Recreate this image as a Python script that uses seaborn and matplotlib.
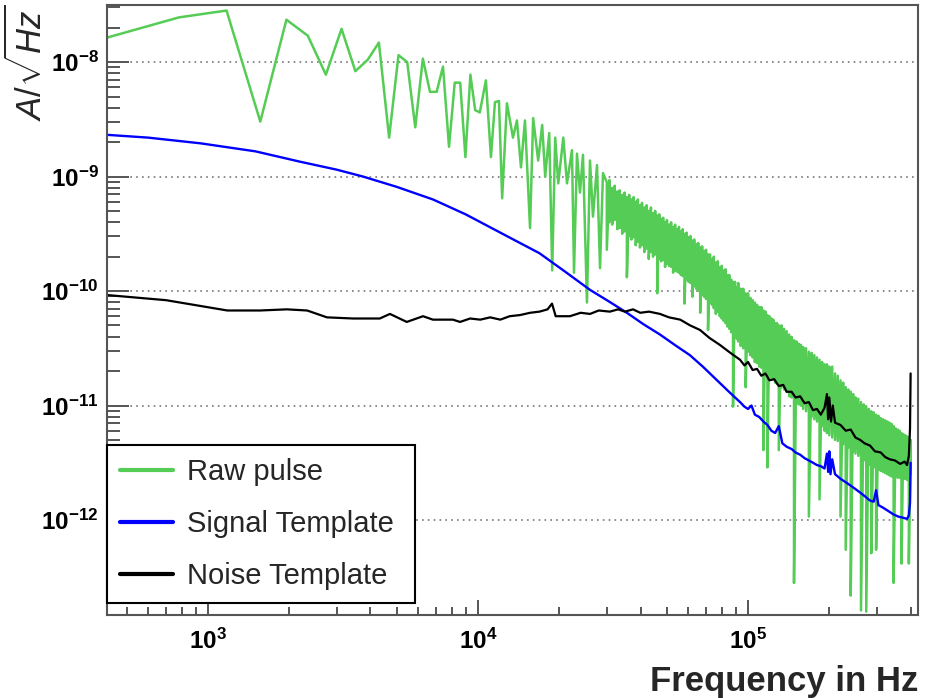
import numpy as np
import pandas as pd
import matplotlib
matplotlib.use("Agg")
import matplotlib.pyplot as plt
import seaborn as sns
from matplotlib import ticker

sns.set_style("ticks")
plt.rcParams["font.family"] = ["Liberation Sans", "DejaVu Sans"]
plt.rcParams["mathtext.fontset"] = "custom"
plt.rcParams["mathtext.rm"] = "Liberation Sans"
plt.rcParams["mathtext.it"] = "Liberation Sans:italic"
plt.rcParams["mathtext.bf"] = "Liberation Sans:bold"

# ---- data: frequency in Hz, log10 of amplitude ----
# raw pulse, low-frequency part (single bins, zig-zag)
raw_freq = [
    390, 781, 1172, 1563, 1953, 2344, 2734, 3125, 3516, 3906, 4297, 4688,
    5078, 5469, 5859, 6250, 6641, 7031, 7422, 7813, 8203, 8594, 8984, 9375,
    9766, 10156, 10700, 11170, 11560, 11960, 12290, 12800, 13480, 13940,
    14430, 14930, 15590, 16010, 16710, 17290, 17740, 18360, 18830, 19320,
    19830, 20700, 21360, 22290, 22680, 23260, 23860, 24480, 25330, 25990,
    26660, 27590, 28310, 29040,
]
raw_log = [
    -7.81, -7.61, -7.55, -8.52, -7.63, -7.77, -8.11, -7.71, -8.08, -7.98,
    -7.83, -8.66, -7.94, -8.00, -8.57, -7.97, -8.26, -8.26, -8.04, -8.74,
    -8.18, -8.18, -8.83, -8.11, -8.42, -8.44, -8.16, -8.83, -8.35, -8.34,
    -9.19, -8.36, -8.66, -8.51, -8.92, -8.51, -9.45, -8.49, -8.86, -8.55,
    -9.00, -8.62, -9.82, -8.66, -9.06, -8.66, -9.06, -8.77, -9.84, -8.80,
    -9.14, -8.81, -10.10, -8.86, -9.35, -8.90, -9.80, -8.97,
]
# raw pulse, high-frequency part: dense band, top and bottom of each column
band_freq = [
    30000, 30700, 31400, 32100, 32800, 33500, 34200, 34900, 35600, 36300,
    37000, 37700, 38400, 39100, 39800, 40500, 41300, 42100, 42900, 43700,
    44500, 45300, 46100, 46900, 47700, 48500, 49300, 50100, 51000, 51900,
    52800, 53700, 54600, 55500, 56400, 57300, 58200, 59200, 60200, 61200,
    62200, 63200, 64300, 65400, 66500, 67600, 68700, 69900, 71100, 72300,
    73500, 74700, 76000, 77300, 78600, 79900, 81200, 82500, 83800, 85200,
    86600, 88000, 89500, 91000,
    92000, 94000, 96000, 98000, 100000, 102000, 104000, 106000, 108000,
    110000, 112000, 114000, 116000, 118000, 120000, 122000, 124000, 126000,
    128000, 130000, 133000, 136000, 139000, 142000, 145000, 148000, 151000,
    154000, 157000, 160000, 164000, 168000, 172000, 176000, 180000, 184000,
    188000, 192000, 196000, 200000, 205000, 210000, 215000, 220000, 225000,
    230000, 235000, 240000, 245000, 250000, 256000, 262000, 268000, 274000,
    280000, 286000, 292000, 298000, 304000, 310000, 316000, 322000, 328000,
    334000, 340000, 346000, 352000, 358000, 364000, 370000, 376000, 382000,
    388000, 394000, 400000,
]
band_top = [
    -9.05, -9.03, -9.10, -9.08, -9.13, -9.12, -9.16, -9.14, -9.18, -9.16,
    -9.20, -9.18, -9.22, -9.20, -9.25, -9.23, -9.27, -9.25, -9.30, -9.27,
    -9.32, -9.30, -9.34, -9.33, -9.37, -9.36, -9.40, -9.38, -9.42, -9.40,
    -9.44, -9.42, -9.46, -9.44, -9.48, -9.46, -9.50, -9.49, -9.53, -9.52,
    -9.56, -9.55, -9.59, -9.58, -9.62, -9.61, -9.65, -9.64, -9.68, -9.68,
    -9.72, -9.70, -9.75, -9.74, -9.79, -9.78, -9.82, -9.81, -9.86, -9.86,
    -9.90, -9.92, -9.92, -9.97,
    -9.93, -9.98, -9.98, -10.02, -10.02, -10.06, -10.08, -10.10, -10.12,
    -10.14, -10.14, -10.17, -10.18, -10.21, -10.22, -10.24, -10.25, -10.28,
    -10.28, -10.30, -10.30, -10.33, -10.35, -10.38, -10.40, -10.43, -10.44,
    -10.46, -10.47, -10.49, -10.50, -10.53, -10.54, -10.56, -10.58, -10.60,
    -10.62, -10.64, -10.64, -10.66, -10.66, -10.72, -10.74, -10.78, -10.80,
    -10.84, -10.86, -10.88, -10.90, -10.93, -10.94, -10.97, -10.99, -11.01,
    -11.03, -11.05, -11.06, -11.08, -11.09, -11.11, -11.12, -11.13, -11.14,
    -11.15, -11.16, -11.18, -11.20, -11.21, -11.22, -11.24, -11.25, -11.26,
    -11.27, -11.28, -11.30,
]
band_low = [
    -9.64, -9.40, -9.42, -9.38, -9.46, -9.45, -9.50, -9.48, -9.88, -9.52,
    -9.55, -9.53, -9.60, -9.57, -9.62, -9.60, -9.66, -9.63, -9.72, -9.66,
    -9.70, -9.68, -10.02, -9.72, -9.74, -9.73, -9.79, -9.76, -9.78, -9.79,
    -9.84, -9.82, -9.83, -9.84, -9.86, -9.87, -10.11, -9.90, -9.92, -9.93,
    -10.05, -9.96, -9.98, -10.00, -10.19, -10.03, -10.05, -10.07, -10.34, -10.10,
    -10.12, -10.15, -10.20, -10.18, -10.22, -10.24, -10.26, -10.28, -10.31, -10.33,
    -10.36, -11.01, -10.39, -10.42,
    -10.44, -10.48, -10.50, -10.84, -10.53, -10.56, -10.58, -10.62, -10.63,
    -10.66, -10.67, -11.39, -10.70, -11.54, -10.73, -10.76, -10.77, -10.80,
    -10.81, -11.39, -10.84, -10.86, -10.88, -10.92, -10.93, -12.55, -10.97,
    -10.99, -11.00, -11.03, -11.05, -11.97, -11.10, -11.12, -11.14, -11.82,
    -11.18, -11.22, -11.24, -11.26, -11.28, -11.30, -11.31, -11.97, -11.34,
    -12.26, -11.37, -12.66, -11.40, -11.42, -11.44, -12.79, -11.48, -12.80,
    -11.52, -12.29, -11.54, -12.26, -11.56, -11.57, -11.58, -11.59, -11.60,
    -11.61, -11.62, -12.55, -11.62, -11.63, -11.63, -12.38, -11.64, -11.64,
    -11.65, -12.38, -11.60,
]

signal_freq = [
    390, 600, 940, 1500, 2190, 3000, 3750, 5000, 6810, 9000, 12100, 16900,
    21000, 26000, 30500, 35600, 41000, 47200, 53500, 60900, 68000, 76800,
    85000, 93400, 97000, 100000, 103000, 106000, 110000, 114000, 118000,
    122000, 126000, 130000, 134000, 139000, 145000, 150000, 156000, 162000,
    168000, 174000, 180000, 186000, 192000, 196000, 198000, 200000, 202000,
    205000, 210000, 220000, 230000, 240000, 250000, 260000, 270000, 283000,
    292000, 298000, 304000, 315000, 330000, 345000, 360000, 375000, 388000,
    394000, 398000, 400000,
]
signal_log = [
    -8.63, -8.66, -8.71, -8.78, -8.87, -8.94, -9.00, -9.09, -9.20, -9.33,
    -9.49, -9.67, -9.83, -9.99, -10.09, -10.19, -10.29, -10.38, -10.47,
    -10.56, -10.66, -10.78, -10.88, -10.97, -11.01, -11.03, -11.00, -11.08,
    -11.10, -11.14, -11.17, -11.22, -11.24, -11.18, -11.33, -11.36, -11.38,
    -11.41, -11.43, -11.46, -11.48, -11.50, -11.52, -11.53, -11.55, -11.42,
    -11.58, -11.40, -11.60, -11.47, -11.60, -11.64, -11.67, -11.70, -11.73,
    -11.76, -11.79, -11.83, -11.84, -11.74, -11.87, -11.89, -11.92, -11.95,
    -11.97, -11.98, -11.99, -11.96, -11.85, -11.50,
]

noise_freq = [
    390, 423, 700, 1180, 1560, 1960, 2330, 2760, 3450, 4330, 4720, 5450,
    6260, 6810, 8080, 8580, 9350, 10200, 11100, 12100, 13100, 14300, 15600,
    16900, 18100, 18800, 19400, 21900, 24000, 26000, 28000, 30800, 33000,
    35000, 37500, 39900, 43000, 47200, 51000, 56100, 61000, 66400, 72000,
    78600, 86000, 93400, 97000, 100000, 104000, 108000, 112000, 116000,
    120000, 125000, 130000, 135000, 139000, 145000, 150000, 156000, 162000,
    168000, 174000, 180000, 186000, 192000, 196000, 198000, 200000, 203000,
    206000, 210000, 220000, 230000, 240000, 250000, 260000, 270000, 283000,
    295000, 310000, 322000, 335000, 350000, 366000, 380000, 388000, 394000,
    398000, 400000,
]
noise_log = [
    -10.02, -10.035, -10.08, -10.17, -10.17, -10.16, -10.17, -10.23, -10.24,
    -10.24, -10.20, -10.27, -10.22, -10.25, -10.25, -10.27, -10.24, -10.25,
    -10.23, -10.25, -10.22, -10.21, -10.19, -10.18, -10.16, -10.11, -10.22,
    -10.22, -10.19, -10.20, -10.17, -10.18, -10.16, -10.18, -10.16, -10.19,
    -10.18, -10.20, -10.23, -10.25, -10.30, -10.34, -10.41, -10.47, -10.54,
    -10.60, -10.65, -10.62, -10.69, -10.68, -10.74, -10.72, -10.78, -10.77,
    -10.83, -10.82, -10.88, -10.88, -10.93, -10.92, -10.98, -10.97, -11.04,
    -11.03, -11.08, -11.02, -10.90, -11.12, -10.93, -11.14, -11.00, -11.15,
    -11.17, -11.22, -11.21, -11.28, -11.30, -11.33, -11.35, -11.40, -11.41,
    -11.45, -11.47, -11.48, -11.51, -11.49, -11.52, -11.44, -11.20, -10.72,
]

series_names = ["Raw pulse", "Signal Template", "Noise Template"]
series_colors = ["#55cc55", "#0000ff", "#000000"]

# the dense band is drawn as one path: down each column, then on to the next
raw_path_f = list(raw_freq)
raw_path_v = list(raw_log)
for f, top, low in zip(band_freq, band_top, band_low):
    raw_path_f += [f, f]
    raw_path_v += [top, low]


def make_frame(freq, logamp, name):
    return pd.DataFrame({"freq": freq, "amp": 10.0 ** np.array(logamp), "series": name})


frames = [
    make_frame(raw_path_f, raw_path_v, series_names[0]),
    make_frame(signal_freq, signal_log, series_names[1]),
    make_frame(noise_freq, noise_log, series_names[2]),
]

fig = plt.figure(figsize=(9.3, 6.98), dpi=100)
ax = fig.add_axes([107 / 930, 83 / 698, 811 / 930, 610 / 698])

widths = [1.8, 1.7, 1.6]
for df, name, col, lw in zip(frames, series_names, series_colors, widths):
    sns.lineplot(data=df, x="freq", y="amp", color=col, lw=lw, label=name,
                 estimator=None, sort=False, ax=ax)

ax.set_xscale("log")
ax.set_yscale("log")
ax.set_xlim(423, 426000)
ax.set_ylim(1.48e-13, 3.15e-8)

ax.xaxis.set_major_locator(ticker.FixedLocator([1e3, 1e4, 1e5]))
ax.xaxis.set_minor_locator(ticker.LogLocator(base=10, subs=np.arange(2, 10)))
ax.yaxis.set_major_locator(ticker.FixedLocator([1e-12, 1e-11, 1e-10, 1e-9, 1e-8]))
ax.yaxis.set_minor_locator(ticker.LogLocator(base=10, subs=np.arange(2, 10), numticks=20))


def pow_fmt(v, pos):
    return r"$\mathbf{10^{%d}}$" % int(round(np.log10(v)))


ax.xaxis.set_major_formatter(ticker.FuncFormatter(pow_fmt))
ax.yaxis.set_major_formatter(ticker.FuncFormatter(pow_fmt))
ax.xaxis.set_minor_formatter(ticker.NullFormatter())
ax.yaxis.set_minor_formatter(ticker.NullFormatter())

ax.tick_params(axis="both", which="both", direction="in", colors="#555555",
               labelcolor="black", width=1.4)
ax.tick_params(axis="y", which="major", length=16, pad=6, labelsize=17.5)
ax.tick_params(axis="y", which="minor", length=9)
ax.tick_params(axis="x", which="major", length=11, pad=10, labelsize=17.5)
ax.tick_params(axis="x", which="minor", length=6)

ax.yaxis.grid(True, which="major", linestyle=(0, (1, 2.5)), color="#777777", lw=1.2)
ax.xaxis.grid(False)

for sp in ax.spines.values():
    sp.set_visible(True)
    sp.set_color("#555555")
    sp.set_linewidth(1.5)

ax.set_xlabel("Frequency in Hz", fontsize=25, fontweight="bold", loc="right")
ax.xaxis.set_label_coords(1.0, -0.082)
ax.set_ylabel(r"$\mathit{A}/\sqrt{\mathit{Hz}}$", fontsize=25, loc="top")
ax.yaxis.set_label_coords(-0.072, 1.0)

lgd = ax.legend(loc="lower left", bbox_to_anchor=(0.0, 0.0197, 0.38, 0.26),
                mode="expand", borderaxespad=0,
                fontsize=21, frameon=True, fancybox=False, framealpha=1,
                edgecolor="black", borderpad=0.45, labelspacing=0.82,
                handlelength=1.8, handletextpad=0.5)
lgd.get_frame().set_linewidth(1.5)
for h in lgd.get_lines():
    h.set_linewidth(3)

fig.savefig("out.png", dpi=100)
